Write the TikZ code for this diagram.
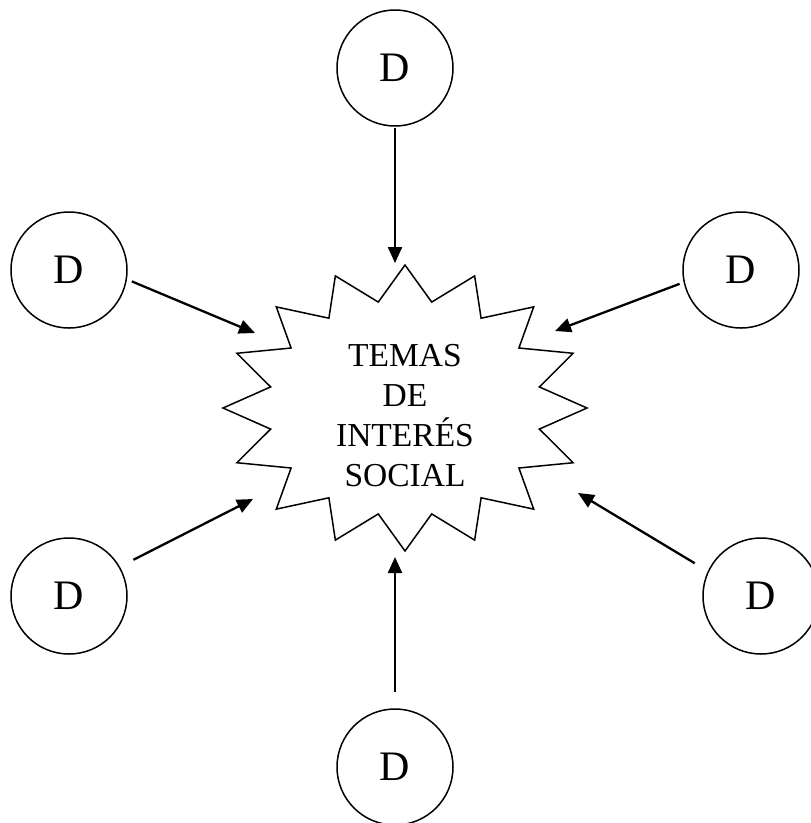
\documentclass[tikz,border=0pt]{standalone}
\usepackage{fontspec}
\setmainfont{Liberation Serif}
\usetikzlibrary{arrows.meta}
\tikzset{
  dnode/.style={circle, draw, line width=1.5pt, minimum size=116pt, inner sep=0pt, outer sep=0pt, font=\fontsize{42}{50}\selectfont},
  arr/.style={line width=2.3pt, -{Triangle[length=16pt,width=14pt]}},
  starline/.style={line width=1.5pt, line join=miter},
  startext/.style={align=center, inner sep=0pt, font=\fontsize{33.5}{40}\selectfont}
}
\begin{document}
\begin{tikzpicture}[x=1pt,y=-1pt]
\useasboundingbox (0,0) rectangle (811,823);
% star
\draw[starline] plot[samples at={0,...,31}, variable=\k]
  ({405+(mod(\k,2)==0 ? 182 : 137)*cos(90+\k*11.25)},
   {408-(mod(\k,2)==0 ? 143 : 108)*sin(90+\k*11.25)}) -- cycle;
\node[startext] (tema) at (405,416) {TEMAS\\DE\\INTERÉS\\SOCIAL};
% circles
\node[dnode] (dt)  at (395,68)  {D};
\node[dnode] (dlt) at (69,270)  {D};
\node[dnode] (drt) at (741,270) {D};
\node[dnode] (dlb) at (69,596)  {D};
\node[dnode] (drb) at (761,596) {D};
\node[dnode] (db)  at (395,767) {D};
% arrow tips
\coordinate (tt)  at (395,263);
\coordinate (tlt) at (255,333);
\coordinate (trt) at (555,331);
\coordinate (tlb) at (253,499);
\coordinate (trb) at (578,493);
\coordinate (tb)  at (395,557);
% arrows
\draw[arr, shorten <=2pt]  (dt.-90)     -- (tt);
\draw[arr, shorten <=6pt]  (dlt.-9.9)   -- (tlt);
\draw[arr, shorten <=5pt]  (drt.-168.2) -- (trt);
\draw[arr, shorten <=16pt] (dlb.30)     -- (tlb);
\draw[arr, shorten <=16pt] (drb.155.2)  -- (trb);
\draw[arr, shorten <=17pt] (db.90)      -- (tb);
\end{tikzpicture}
\end{document}
